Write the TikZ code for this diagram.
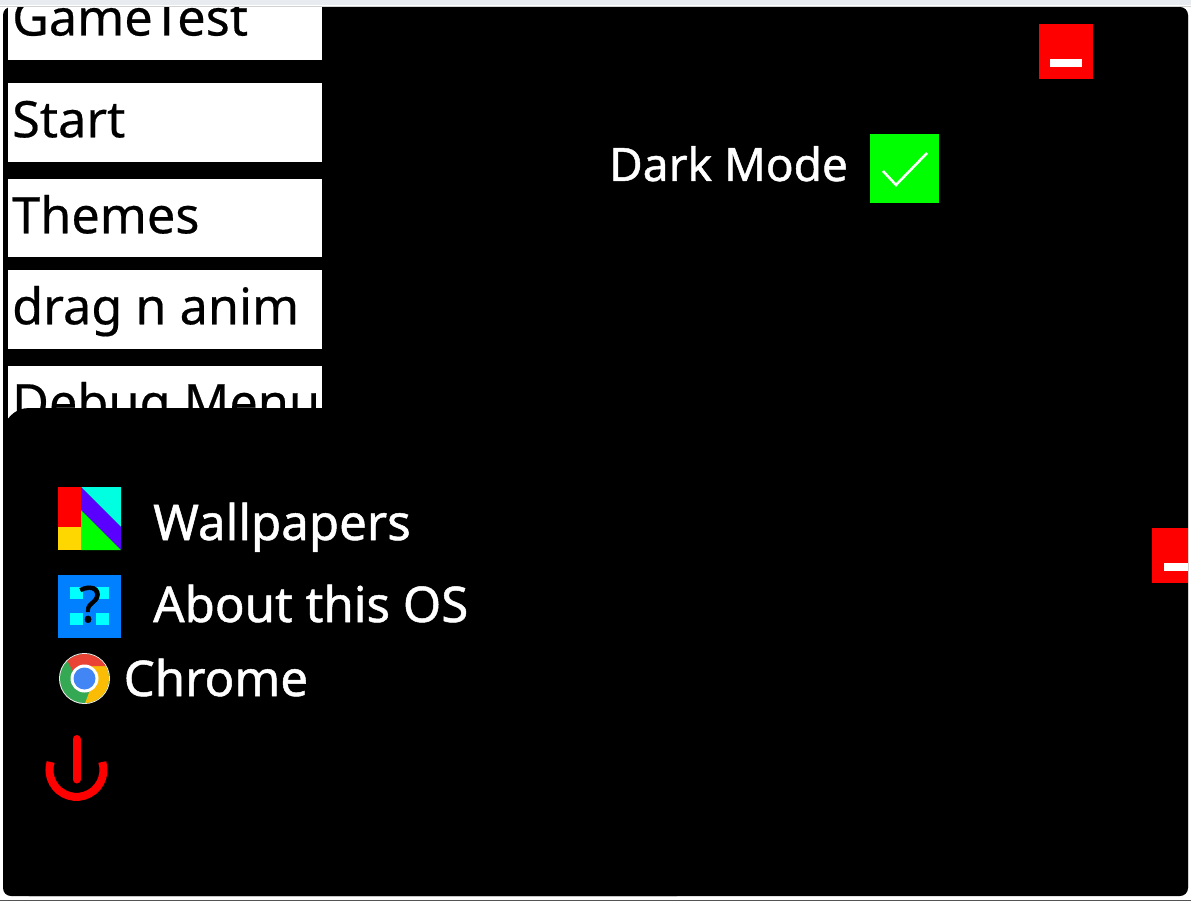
\documentclass[tikz,border=0pt]{standalone}
\usepackage{fontspec}
\setmainfont{Noto Sans}
\newfontfamily\boldishfont[FakeBold=1]{Noto Sans}
\newfontfamily\menufont[FakeBold=0.4]{Noto Sans}
\usetikzlibrary{positioning, shapes}

\definecolor{stripgray}{RGB}{232,236,240}
\definecolor{edgegray}{RGB}{210,210,210}
\definecolor{aboutblue}{RGB}{0,128,255}
\definecolor{aboutcyan}{RGB}{0,255,255}
\definecolor{wallcyan}{RGB}{0,255,225}
\definecolor{wallyellow}{RGB}{255,215,0}
\definecolor{wallpurple}{RGB}{90,0,255}
\definecolor{chromegreen}{RGB}{52,168,83}
\definecolor{chromered}{RGB}{234,67,53}
\definecolor{chromeyellow}{RGB}{251,188,5}
\definecolor{chromeblue}{RGB}{66,133,244}

\tikzset{
	menubtn/.style={rectangle, fill=white, inner sep=0pt, minimum width=314pt, minimum height=79pt},
	menutext/.style={anchor=base west, inner sep=0pt, font=\menufont\fontsize{50.4}{50}\selectfont, text=black},
	apptext/.style={anchor=base west, inner sep=0pt, font=\boldishfont\fontsize{49.2}{50}\selectfont, text=white},
	closebtn/.style={rectangle, fill=red, inner sep=0pt, minimum width=54.5pt, minimum height=55pt},
	closebar/.style={rectangle, fill=white, inner sep=0pt, minimum width=32pt, minimum height=8pt},
	iconsq/.style={rectangle, fill=aboutcyan, inner sep=0pt, minimum size=12.5pt}
}

\begin{document}
\begin{tikzpicture}[x=1pt, y=-1pt]
	\useasboundingbox (0,0) rectangle (1191,901);
	\fill[white] (0,0) rectangle (1191,901);

	% Finestra
	\node[rectangle, fill=black, rounded corners=8pt, inner sep=0pt, minimum width=1185pt, minimum height=889pt] (window) at (595.5,451.5) {};
	\draw[edgegray, line width=1pt] (1188.5,15) -- (1188.5,888);

	% Menu
	\node[menubtn] (gametest) at (165,20.5) {};
	\node[menutext] (gametesttext) at (12,35.5) {GameTest};
	\node[menubtn] (start) at (165,122.5) {};
	\node[menutext] (starttext) at (12,137.3) {Start};
	\node[menubtn, minimum height=78pt] (themes) at (165,218) {};
	\node[menutext] (themestext) at (12,233.3) {Themes};
	\node[menubtn] (drag) at (165,309.5) {};
	\node[menutext] (dragtext) at (12,324.3) {drag n anim};
	\node[menubtn] (debug) at (165,405.5) {};
	\node[menutext] (debugtext) at (12,420.3) {Debug Menu};

	% Bordo superiore
	\fill[white] (0,0) rectangle (1191,7);
	\fill[stripgray] (0,0) rectangle (1191,5);
	\fill[edgegray] (0,6) rectangle (1191,7);
	\fill[white] (0,7) rectangle (3,20);

	% Pannello
	\node[rectangle, fill=black, rounded corners=26pt, inner sep=0pt, minimum width=700pt, minimum height=488pt] (panel) at (353,652) {};

	% Pulsanti rossi
	\node[closebtn] (closetop) at (1066,51.5) {};
	\node[closebar] (closetopbar) at (1066,63) {};
	\node[closebtn, minimum width=36pt] (closeside) at (1170,555) {};
	\node[closebar, minimum width=24pt] (closesidebar) at (1176,566.5) {};

	% Dark mode
	\node[apptext, font=\boldishfont\fontsize{46}{46}\selectfont] (darktext) at (609,181) {Dark Mode};
	\node[rectangle, fill=green, inner sep=0pt, minimum width=69pt, minimum height=69pt] (darkcheck) at (904.5,168.5) {};
	\draw[white, line width=2.5pt] (883,171) -- (896,185) -- (927,153);

	% Icona Wallpapers
	\fill[red] (58,487) rectangle (81,527);
	\fill[wallyellow] (58,527) rectangle (81,550);
	\fill[wallcyan] (81,487) -- (121,487) -- (121,527) -- cycle;
	\fill[wallpurple] (81,487) -- (121,527) -- (121,550) -- (81,510) -- cycle;
	\fill[green] (81,510) -- (121,550) -- (81,550) -- cycle;
	\node[apptext] (walltext) at (153,540) {Wallpapers};

	% Icona About
	\node[rectangle, fill=aboutblue, inner sep=0pt, minimum size=63pt] (abouticon) at (89.5,606) {};
	\node[iconsq] (sqa) at (76.5,593) {};
	\node[iconsq] (sqb) at (102.5,593) {};
	\node[iconsq] (sqc) at (76.5,619) {};
	\node[iconsq] (sqd) at (102.5,619) {};
	\node[anchor=base, inner sep=0pt, font=\boldishfont\fontsize{50}{50}\selectfont, text=black] (aboutmark) at (90,622) {?};
	\node[apptext] (abouttext) at (153,622) {About this OS};

	% Icona Chrome
	\fill[white!85!gray] (84.5,678.5) circle (25.5);
	\begin{scope}
		\clip (84.5,678.5) circle (24.5);
		\fill[chromegreen] (55,650) rectangle (115,710);
		\fill[chromeyellow] (85,666) -- (115,666) -- (115,710) -- (85,703.5) -- (90,690) -- cycle;
		\fill[chromered] (110,666) -- (110,645) -- (60,645) -- (68,662) -- (74,673) -- (85,666) -- cycle;
	\end{scope}
	\fill[white] (84.5,678.5) circle (14);
	\fill[chromeblue] (84.5,678.5) circle (11);
	\node[apptext] (chrometext) at (123.5,696) {Chrome};

	% Spegnimento
	\draw[red, line width=8pt] (102.3,762) arc[start angle=-17, end angle=197, radius=27];
	\draw[red, line width=8pt, line cap=round] (76.5,739) -- (76.5,779.5);

	% Bordo inferiore
	\fill[edgegray!40!black] (0,899.5) rectangle (1191,901);
\end{tikzpicture}
\end{document}
